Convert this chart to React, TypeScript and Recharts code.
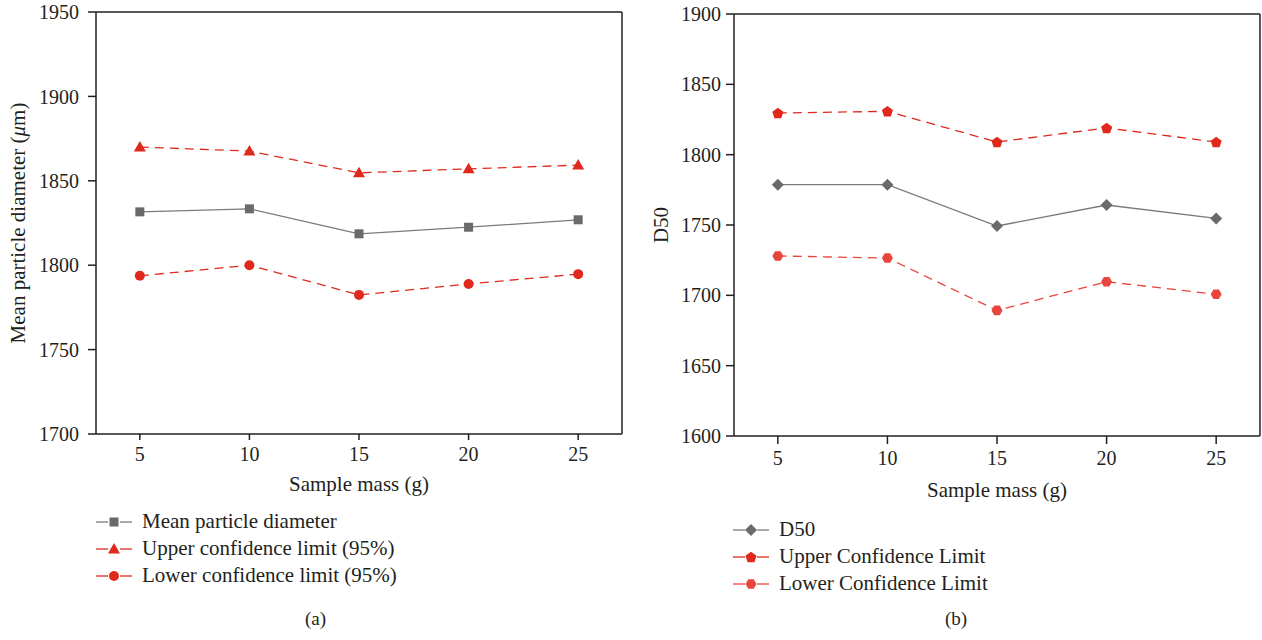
import React from 'react';
import { LineChart, Line, XAxis, YAxis, ReferenceLine } from 'recharts';

const sampleMass = [5, 10, 15, 20, 25];
const meanDiameter = [1831.6, 1833.4, 1818.6, 1822.5, 1826.9];
const upperLimitA = [1870.0, 1867.6, 1854.7, 1857.1, 1859.3];
const lowerLimitA = [1793.7, 1800.0, 1782.4, 1788.9, 1794.7];
const d50Values = [1778.7, 1778.7, 1749.3, 1764.2, 1754.7];
const upperLimitB = [1829.6, 1830.8, 1809.0, 1819.0, 1809.0];
const lowerLimitB = [1728.0, 1726.5, 1689.3, 1709.7, 1700.7];
const yTicksA = [1700, 1750, 1800, 1850, 1900, 1950];
const yTicksB = [1600, 1650, 1700, 1750, 1800, 1850, 1900];

const dataA = sampleMass.map((x, i) => ({ x, mean: meanDiameter[i], upper: upperLimitA[i], lower: lowerLimitA[i] }));
const dataB = sampleMass.map((x, i) => ({ x, d50: d50Values[i], upper: upperLimitB[i], lower: lowerLimitB[i] }));

const FONT = '"Liberation Serif", "Times New Roman", serif';
const INK = '#231f20';
const GRAY = '#6a6a6a';
const GRAY_LINE = '#7a7a7a';
const RED = '#e0291c';
const RED_LIGHT = '#e8463c';
const DASH = '9 6';

function polygon(cx: number, cy: number, r: number, n: number, start: number) {
  const pts: string[] = [];
  for (let k = 0; k < n; k++) {
    const a = ((start + (360 / n) * k) * Math.PI) / 180;
    pts.push(`${(cx + r * Math.cos(a)).toFixed(2)},${(cy + r * Math.sin(a)).toFixed(2)}`);
  }
  return pts.join(' ');
}

function Marker({ kind, cx, cy, color }: { kind: string; cx: number; cy: number; color: string }) {
  switch (kind) {
    case 'square':
      return <rect x={cx - 4.5} y={cy - 4.5} width={9} height={9} fill={color} />;
    case 'triangle':
      return <polygon points={`${cx},${cy - 6} ${cx + 6},${cy + 4.5} ${cx - 6},${cy + 4.5}`} fill={color} />;
    case 'circle':
      return <circle cx={cx} cy={cy} r={5} fill={color} />;
    case 'diamond':
      return <polygon points={`${cx},${cy - 6} ${cx + 6},${cy} ${cx},${cy + 6} ${cx - 6},${cy}`} fill={color} />;
    case 'pentagon':
      return <polygon points={polygon(cx, cy + 0.5, 5.8, 5, -90)} fill={color} />;
    case 'hexagon':
      return <polygon points={polygon(cx, cy, 5.5, 6, 0)} fill={color} />;
    default:
      return null;
  }
}

const dot = (kind: string, color: string) => (props: any) => {
  const { cx, cy, index } = props;
  if (cx == null || cy == null) return <g key={`d-${index}`} />;
  return (
    <g key={`${kind}-${index}`}>
      <Marker kind={kind} cx={cx} cy={cy} color={color} />
    </g>
  );
};

const tickStyle = { fill: INK, fontFamily: FONT, fontSize: 20 };
const axisLine = { stroke: INK, strokeWidth: 1.5 };

const yLabel = (cx: number, children: React.ReactNode) => (props: any) => {
  const vb = props.viewBox || {};
  const cy = (vb.y || 0) + (vb.height || 0) / 2;
  return (
    <text
      transform={`translate(${cx},${cy}) rotate(-90)`}
      textAnchor="middle"
      dominantBaseline="central"
      fill={INK}
      fontFamily={FONT}
      fontSize={21}
    >
      {children}
    </text>
  );
};

const xLabel = (cy: number, children: React.ReactNode) => (props: any) => {
  const vb = props.viewBox || {};
  const cx = (vb.x || 0) + (vb.width || 0) / 2;
  return (
    <text x={cx} y={cy} textAnchor="middle" dominantBaseline="central" fill={INK} fontFamily={FONT} fontSize={21}>
      {children}
    </text>
  );
};

type LegendItem = { label: string; color: string; lineColor: string; kind: string };

function LegendBox({ items, left, top }: { items: LegendItem[]; left: number; top: number }) {
  return (
    <div style={{ position: 'absolute', left, top, fontFamily: FONT, fontSize: 21, color: INK }}>
      {items.map((it) => (
        <div key={it.label} style={{ display: 'flex', alignItems: 'center', height: 27 }}>
          <svg width={36} height={14} style={{ marginRight: 10 }}>
            <line x1={0} y1={7} x2={12} y2={7} stroke={it.lineColor} strokeWidth={1.3} />
            <line x1={24} y1={7} x2={36} y2={7} stroke={it.lineColor} strokeWidth={1.3} />
            <Marker kind={it.kind} cx={18} cy={7} color={it.color} />
          </svg>
          <span style={{ whiteSpace: 'nowrap', lineHeight: '27px' }}>{it.label}</span>
        </div>
      ))}
    </div>
  );
}

const legendA: LegendItem[] = [
  { label: 'Mean particle diameter', color: GRAY, lineColor: GRAY_LINE, kind: 'square' },
  { label: 'Upper confidence limit (95%)', color: RED, lineColor: RED, kind: 'triangle' },
  { label: 'Lower confidence limit (95%)', color: RED, lineColor: RED, kind: 'circle' },
];
const legendB: LegendItem[] = [
  { label: 'D50', color: GRAY, lineColor: GRAY_LINE, kind: 'diamond' },
  { label: 'Upper Confidence Limit', color: RED, lineColor: RED, kind: 'pentagon' },
  { label: 'Lower Confidence Limit', color: RED_LIGHT, lineColor: RED_LIGHT, kind: 'hexagon' },
];

export default function App() {
  return (
    <div style={{ position: 'absolute', left: 0, top: 0, width: 1262, height: 640, background: '#fff', overflow: 'hidden' }}>
      <div style={{ position: 'absolute', left: 0, top: 0 }}>
        <LineChart width={640} height={510} data={dataA} margin={{ top: 12, right: 18, bottom: 0, left: 0 }}>
          <XAxis
            dataKey="x"
            type="number"
            domain={[3, 27]}
            ticks={sampleMass}
            tick={tickStyle}
            tickSize={6}
            tickMargin={7}
            axisLine={axisLine}
            tickLine={axisLine}
            height={76}
            label={{ content: xLabel(484, 'Sample mass (g)') }}
          />
          <YAxis
            type="number"
            domain={[1700, 1950]}
            ticks={yTicksA}
            tick={tickStyle}
            tickSize={8}
            tickMargin={9}
            axisLine={axisLine}
            tickLine={axisLine}
            width={96}
            label={{
              content: yLabel(18, (
                <>
                  Mean particle diameter (<tspan fontStyle="italic">μ</tspan>m)
                </>
              )),
            }}
          />
          <ReferenceLine y={1950} stroke={INK} strokeWidth={1.5} />
          <ReferenceLine x={27} stroke={INK} strokeWidth={1.5} />
          <Line dataKey="upper" stroke={RED} strokeWidth={1.3} strokeDasharray={DASH} dot={dot('triangle', RED)} isAnimationActive={false} />
          <Line dataKey="lower" stroke={RED} strokeWidth={1.3} strokeDasharray={DASH} dot={dot('circle', RED)} isAnimationActive={false} />
          <Line dataKey="mean" stroke={GRAY_LINE} strokeWidth={1.3} dot={dot('square', GRAY)} isAnimationActive={false} />
        </LineChart>
      </div>
      <div style={{ position: 'absolute', left: 640, top: 0 }}>
        <LineChart width={622} height={510} data={dataB} margin={{ top: 14, right: 2, bottom: 0, left: 0 }}>
          <XAxis
            dataKey="x"
            type="number"
            domain={[3, 27]}
            ticks={sampleMass}
            tick={tickStyle}
            tickSize={8}
            tickMargin={7}
            axisLine={axisLine}
            tickLine={axisLine}
            height={74}
            label={{ content: xLabel(490, 'Sample mass (g)') }}
          />
          <YAxis
            type="number"
            domain={[1600, 1900]}
            ticks={yTicksB}
            tick={tickStyle}
            tickSize={8}
            tickMargin={5}
            axisLine={axisLine}
            tickLine={axisLine}
            width={94}
            label={{ content: yLabel(21, 'D50') }}
          />
          <ReferenceLine y={1900} stroke={INK} strokeWidth={1.5} />
          <ReferenceLine x={27} stroke={INK} strokeWidth={1.5} />
          <Line dataKey="upper" stroke={RED} strokeWidth={1.3} strokeDasharray={DASH} dot={dot('pentagon', RED)} isAnimationActive={false} />
          <Line dataKey="lower" stroke={RED_LIGHT} strokeWidth={1.3} strokeDasharray={DASH} dot={dot('hexagon', RED_LIGHT)} isAnimationActive={false} />
          <Line dataKey="d50" stroke={GRAY_LINE} strokeWidth={1.3} dot={dot('diamond', GRAY)} isAnimationActive={false} />
        </LineChart>
      </div>
      <LegendBox items={legendA} left={96} top={508} />
      <LegendBox items={legendB} left={733} top={516} />
      <div style={{ position: 'absolute', left: 305, top: 608, fontFamily: FONT, fontSize: 19, color: INK }}>(a)</div>
      <div style={{ position: 'absolute', left: 945, top: 608, fontFamily: FONT, fontSize: 19, color: INK }}>(b)</div>
    </div>
  );
}
